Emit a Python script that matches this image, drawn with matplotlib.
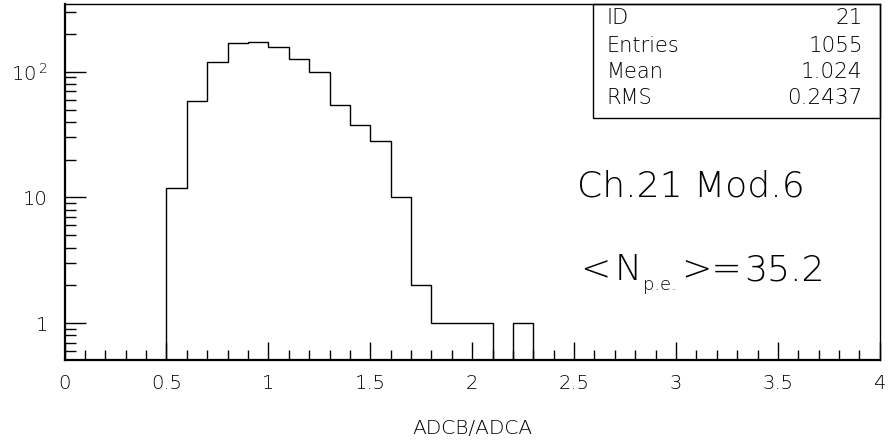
#!/usr/bin/env python3
# -*- coding: utf-8 -*-
"""ADCB/ADCA ratio histogram (PAW style), channel 21 module 6."""
import matplotlib
matplotlib.use("Agg")
import matplotlib.pyplot as plt
from matplotlib.patches import Rectangle
from matplotlib.ticker import FixedLocator, FixedFormatter, NullFormatter

# bin edges (width 0.1) and counts
bin_edges = [0.5, 0.6, 0.7, 0.8, 0.9, 1.0, 1.1, 1.2, 1.3, 1.4,
             1.5, 1.6, 1.7, 1.8, 1.9, 2.0, 2.1, 2.2, 2.3]
counts = [12, 59, 119, 169, 173, 157, 126, 99, 54, 38,
          28, 10, 2, 1, 1, 1, 0, 1]

stat_names = ["ID", "Entries", "Mean", "RMS"]
stat_values = ["21", "1055", "1.024", "0.2437"]

x_ticks = [0, 0.5, 1, 1.5, 2, 2.5, 3, 3.5, 4]
x_ticklabels = ["0", "0.5", "1", "1.5", "2", "2.5", "3", "3.5", "4"]
y_ticks = [1, 10, 100]
y_ticklabels = ["1", "10", r"$10^{\,2}$"]

FONT = "DejaVu Sans"
plt.rcParams["font.family"] = [FONT]
plt.rcParams["font.weight"] = "light"
plt.rcParams["axes.labelweight"] = "light"
plt.rcParams["mathtext.fontset"] = "custom"
plt.rcParams["mathtext.rm"] = FONT + ":light"
plt.rcParams["mathtext.it"] = FONT + ":light"

fig = plt.figure(figsize=(8.96, 4.42), dpi=100)
ax = fig.add_axes([0.072, 0.1855, 0.910, 0.8045])

ax.stairs(counts, bin_edges, color="black", linewidth=1.0)

ax.set_yscale("log")
ax.set_xlim(0, 4)
ax.set_ylim(0.51, 343)

# ticks: inside, left/bottom only
ax.xaxis.set_major_locator(FixedLocator(x_ticks))
ax.xaxis.set_major_formatter(FixedFormatter(x_ticklabels))
ax.xaxis.set_minor_locator(FixedLocator([i / 10 for i in range(41)]))
minor_y = [m * 10 ** e for e in (-1, 0, 1, 2) for m in range(2, 10)]
ax.yaxis.set_major_locator(FixedLocator(y_ticks))
ax.yaxis.set_major_formatter(FixedFormatter(y_ticklabels))
ax.yaxis.set_minor_locator(FixedLocator(minor_y))
ax.yaxis.set_minor_formatter(NullFormatter())
ax.tick_params(which="both", direction="in", top=False, right=False, color="black")
ax.tick_params(axis="x", which="major", length=13, width=1, labelsize=14, pad=10)
ax.tick_params(axis="x", which="minor", length=7, width=1)
ax.tick_params(axis="y", which="major", length=15, width=1, labelsize=14, pad=12)
ax.tick_params(axis="y", which="minor", length=8, width=1)

for side in ("left", "bottom"):
    ax.spines[side].set_linewidth(1.6)
for side in ("top", "right"):
    ax.spines[side].set_linewidth(1.0)

ax.set_xlabel("ADCB/ADCA", fontsize=14.5, labelpad=19)

# statistics box in the top-right corner
box_x0, box_y0 = 0.648, 0.681
ax.add_patch(Rectangle((box_x0, box_y0), 1 - box_x0, 1 - box_y0,
                       transform=ax.transAxes, fill=False,
                       edgecolor="black", linewidth=1.0, clip_on=False))
row_y = [0.962, 0.884, 0.810, 0.737]
for name, val, yy in zip(stat_names, stat_values, row_y):
    ax.text(0.665, yy, name, transform=ax.transAxes, fontsize=15,
            ha="left", va="center")
    ax.text(0.979, yy, val, transform=ax.transAxes, fontsize=15.5,
            ha="right", va="center")

ax.text(0.629, 0.488, "Ch.21 Mod.6", transform=ax.transAxes,
        fontsize=26, ha="left", va="center")

# <N_p.e.>=35.2 built from pieces so the subscript sits like the original
t0 = ax.text(0.632, 0.205, "<", transform=ax.transAxes,
             fontsize=26, ha="left", va="bottom")
t1 = ax.annotate("N", xy=(1, 0), xycoords=t0, xytext=(3, 0),
                 textcoords="offset points", fontsize=26,
                 ha="left", va="bottom")
t2 = ax.annotate("p.e.", xy=(1, 0), xycoords=t1, xytext=(1, -2),
                 textcoords="offset points", fontsize=13,
                 ha="left", va="baseline")
t3 = ax.annotate(">=", xy=(1, 0), xycoords=(t2, t1), xytext=(3, 0),
                 textcoords="offset points", fontsize=26,
                 ha="left", va="bottom")
ax.annotate("35.2", xy=(1, 0), xycoords=t3, xytext=(2, 0),
            textcoords="offset points", fontsize=26,
            ha="left", va="bottom")

fig.savefig("out.png", dpi=100)
